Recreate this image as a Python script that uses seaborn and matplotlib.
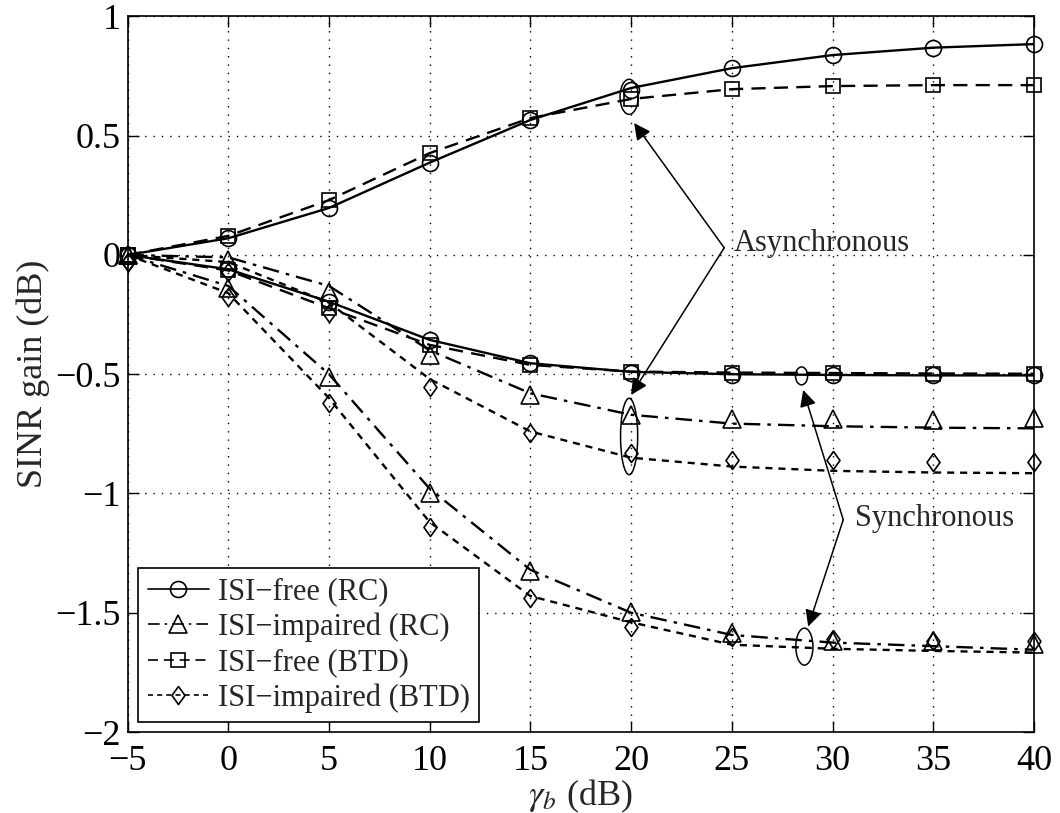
import matplotlib
matplotlib.use("Agg")
import matplotlib.pyplot as plt
from matplotlib.lines import Line2D
from matplotlib.patches import Ellipse
import seaborn as sns
import pandas as pd

# ---------------- data ----------------
snr_db = [-5, 0, 5, 10, 15, 20, 25, 30, 35, 40]

# Asynchronous
async_free_rc_line = [0, 0.07, 0.197, 0.387, 0.566, 0.700, 0.783, 0.838, 0.869, 0.884]
async_free_rc_mark = [0, 0.07, 0.197, 0.387, 0.566, 0.690, 0.783, 0.838, 0.869, 0.884]
async_free_btd_line = [0, 0.08, 0.230, 0.427, 0.574, 0.654, 0.695, 0.708, 0.712, 0.712]
async_free_btd_mark = [0, 0.08, 0.230, 0.427, 0.574, 0.654, 0.695, 0.708, 0.712, 0.712]
async_imp_rc_line = [0, -0.01, -0.13, -0.40, -0.58, -0.670, -0.707, -0.718, -0.724, -0.727]
async_imp_rc_mark = [0, -0.02, -0.154, -0.419, -0.587, -0.670, -0.689, -0.689, -0.690, -0.685]
async_imp_btd_line = [0, -0.03, -0.20, -0.52, -0.74, -0.850, -0.887, -0.905, -0.912, -0.915]
async_imp_btd_mark = [-0.028, -0.07, -0.244, -0.552, -0.747, -0.831, -0.859, -0.859, -0.866, -0.866]

# Synchronous
sync_free_rc_line = [0, -0.06, -0.196, -0.356, -0.454, -0.490, -0.500, -0.503, -0.505, -0.505]
sync_free_rc_mark = [0, -0.06, -0.196, -0.356, -0.454, -0.495, -0.505, -0.505, -0.505, -0.505]
sync_free_btd_line = [0, -0.065, -0.223, -0.377, -0.461, -0.489, -0.493, -0.495, -0.497, -0.498]
sync_free_btd_mark = [0, -0.065, -0.223, -0.377, -0.461, -0.489, -0.493, -0.495, -0.497, -0.498]
sync_imp_rc_line = [0, -0.13, -0.50, -0.98, -1.32, -1.500, -1.593, -1.625, -1.640, -1.655]
sync_imp_rc_mark = [0, -0.14, -0.51, -0.999, -1.327, -1.495, -1.583, -1.620, -1.620, -1.630]
sync_imp_btd_line = [0, -0.16, -0.60, -1.12, -1.43, -1.540, -1.634, -1.651, -1.660, -1.667]
sync_imp_btd_mark = [-0.028, -0.175, -0.62, -1.139, -1.439, -1.558, -1.600, -1.611, -1.620, -1.620]

legend_labels = ["ISI\u2212free (RC)", "ISI\u2212impaired (RC)",
                 "ISI\u2212free (BTD)", "ISI\u2212impaired (BTD)"]
x_ticks = [-5, 0, 5, 10, 15, 20, 25, 30, 35, 40]
y_ticks = [-2, -1.5, -1, -0.5, 0, 0.5, 1]

# ---------------- style ----------------
sns.set_style("ticks")
plt.rcParams['font.family'] = ['Liberation Serif', 'DejaVu Serif']
plt.rcParams['mathtext.fontset'] = 'stix'

diamond = [(0, 1), (0.72, 0), (0, -1), (-0.72, 0), (0, 1)]
styles = {
    "free_rc": dict(dashes=None, marker="o", ms=11.5),
    "imp_rc": dict(dashes=(7, 3, 1.5, 3), marker="^", ms=12.5),
    "free_btd": dict(dashes=(6, 3.5), marker="s", ms=9.5),
    "imp_btd": dict(dashes=(3, 2.5), marker=diamond, ms=13),
}

fig = plt.figure(figsize=(10.6, 8.13), dpi=100)
ax = fig.add_axes([0.1203, 0.0996, 0.8552, 0.8802])

curves = [
    ("free_rc", async_free_rc_line, async_free_rc_mark),
    ("free_btd", async_free_btd_line, async_free_btd_mark),
    ("free_rc", sync_free_rc_line, sync_free_rc_mark),
    ("free_btd", sync_free_btd_line, sync_free_btd_mark),
    ("imp_rc", async_imp_rc_line, async_imp_rc_mark),
    ("imp_btd", async_imp_btd_line, async_imp_btd_mark),
    ("imp_rc", sync_imp_rc_line, sync_imp_rc_mark),
    ("imp_btd", sync_imp_btd_line, sync_imp_btd_mark),
]

for key, line_vals, mark_vals in curves:
    st = styles[key]
    df_line = pd.DataFrame({"x": snr_db, "y": line_vals})
    sns.lineplot(data=df_line, x="x", y="y", ax=ax, color="black", lw=1.7,
                 sort=False, estimator=None)
    ln = ax.lines[-1]
    if st["dashes"] is not None:
        ln.set_dashes(st["dashes"])
    df_m = pd.DataFrame({"x": snr_db, "y": mark_vals})
    ax.plot(df_m["x"], df_m["y"], ls="none", marker=st["marker"], ms=st["ms"],
            mfc="none", mec="black", mew=1.2, clip_on=False, zorder=4)

ax.set_xlim(-5, 40)
ax.set_ylim(-2, 1)
ax.set_xticks(x_ticks)
ax.set_yticks(y_ticks)
ax.set_xticklabels([f"{v:g}".replace("-", "\u2212") for v in x_ticks])
ax.set_yticklabels([f"{v:g}".replace("-", "\u2212") for v in y_ticks])
ax.tick_params(direction="in", length=8, width=1, labelsize=26, top=True, right=True,
               colors="black")
ax.tick_params(axis="x", pad=9)
ax.tick_params(axis="y", pad=5)
ax.grid(True, ls=(0, (1, 5)), color="black", lw=1)
for s in ax.spines.values():
    s.set_color("black")
    s.set_linewidth(1.2)

ax.set_xlabel(r"$\gamma_b$ (dB)", fontsize=26, labelpad=0)
ax.set_ylabel("SINR gain (dB)", fontsize=26, labelpad=4)

# legend
handles = []
for key, lab in zip(["free_rc", "imp_rc", "free_btd", "imp_btd"], legend_labels):
    st = styles[key]
    h = Line2D([0], [0], color="black", lw=1.2, marker=st["marker"], ms=st["ms"],
               mfc="none", mec="black", mew=1.2)
    if st["dashes"] is not None:
        h.set_dashes(st["dashes"])
    handles.append(h)
leg = ax.legend(handles, legend_labels, loc="lower left", bbox_to_anchor=(0.012, 0.014),
                borderaxespad=0, fontsize=22, frameon=True, fancybox=False,
                handlelength=2.0, handletextpad=0.3, labelspacing=0.2,
                borderpad=0.3, edgecolor="black", framealpha=1)
leg.get_frame().set_linewidth(1.2)

# ellipses
for (cx, cy, w, h) in [(19.9, 0.663, 0.9, 0.147), (19.9, -0.761, 0.85, 0.32),
                       (28.46, -0.507, 0.6, 0.075), (28.6, -1.642, 0.85, 0.155)]:
    ax.add_patch(Ellipse((cx, cy), w, h, fill=False, ec="black", lw=1.1, zorder=5))

arrow_kw = dict(arrowstyle="-|>", lw=1.1, color="black", mutation_scale=25,
                shrinkA=0, shrinkB=0)
ax.annotate("", xy=(20.15, 0.553), xytext=(24.62, 0.03), arrowprops=arrow_kw)
ax.annotate("", xy=(20.0, -0.587), xytext=(24.62, 0.03), arrowprops=arrow_kw)
ax.text(25.1, 0.05, "Asynchronous", fontsize=22, va="center", ha="left")

ax.annotate("", xy=(28.54, -0.566), xytext=(30.53, -1.11), arrowprops=arrow_kw)
ax.annotate("", xy=(28.79, -1.558), xytext=(30.53, -1.11), arrowprops=arrow_kw)
ax.text(31.1, -1.105, "Synchronous", fontsize=22, va="center", ha="left")

fig.savefig("out.png", dpi=100)
